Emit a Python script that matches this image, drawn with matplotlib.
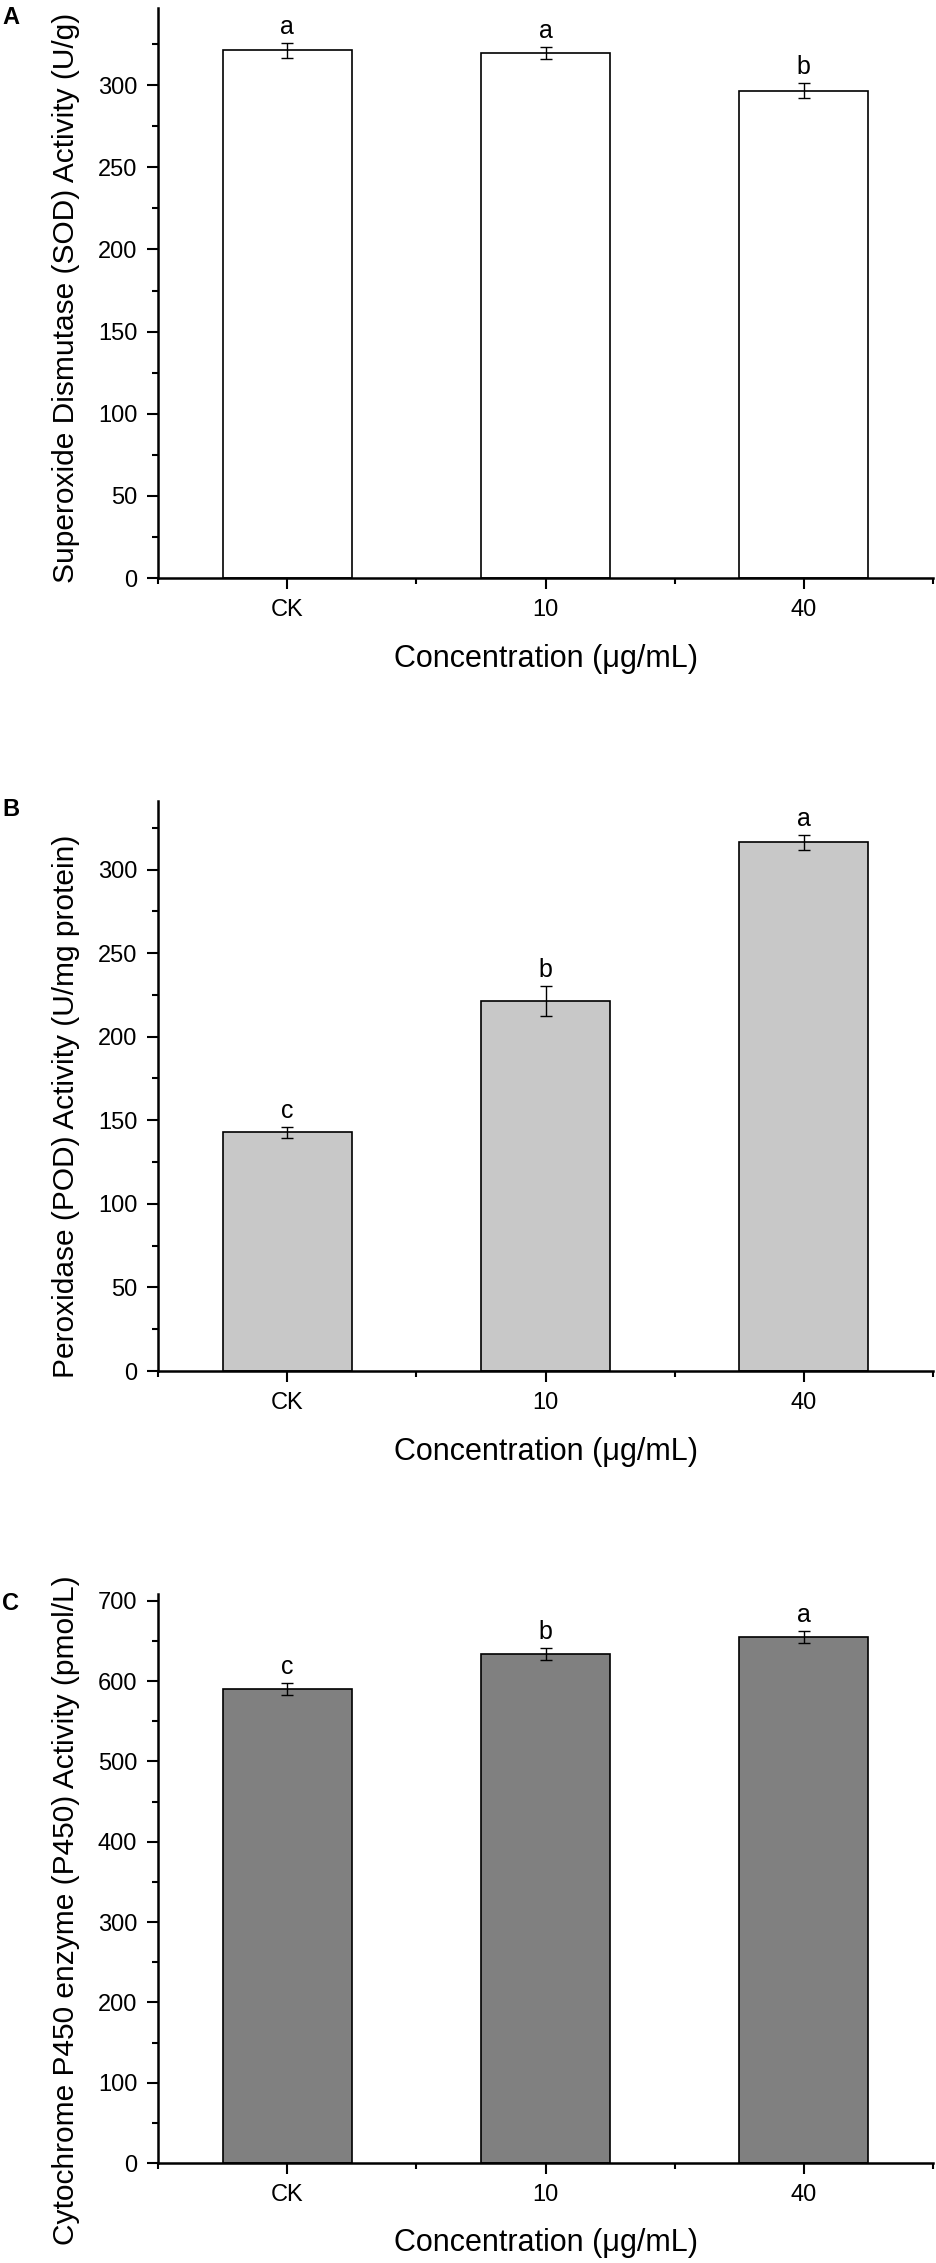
import matplotlib
matplotlib.use("Agg")
import matplotlib.pyplot as plt
from matplotlib.ticker import MultipleLocator, FixedLocator

plt.rcParams['font.family'] = ['Liberation Sans', 'DejaVu Sans']

groups = ['CK', '10', '40']

sod_mean = [321.2, 319.6, 296.6]
sod_err = [4.5, 3.4, 4.5]
sod_letters = ['a', 'a', 'b']

pod_mean = [142.7, 221.3, 316.2]
pod_err = [3.4, 9.2, 4.6]
pod_letters = ['c', 'b', 'a']

p450_mean = [590.4, 634.0, 655.2]
p450_err = [7.3, 7.3, 7.3]
p450_letters = ['c', 'b', 'a']

W, H = 936, 2263
fig = plt.figure(figsize=(W / 100, H / 100), dpi=100)

# (panel letter, means, errors, letters, ylabel, fill, ymax, major, minor, top px, bottom px, ylabel y frac)
panels = [
    ('A', sod_mean, sod_err, sod_letters, 'Superoxide Dismutase (SOD) Activity (U/g)',
     'white', 347, 50, 25, 8, 578, 0.491),
    ('B', pod_mean, pod_err, pod_letters, 'Peroxidase (POD) Activity (U/mg protein)',
     '#c8c8c8', 341, 50, 25, 801, 1371, 0.465),
    ('C', p450_mean, p450_err, p450_letters, 'Cytochrome P450 enzyme (P450) Activity (pmol/L)',
     '#808080', 708.5, 100, 50, 1594, 2163, 0.445),
]

left_px, right_px = 158, 933
x = [1, 2, 3]

for tag, mean, err, lett, ylab, fill, ymax, maj, mnr, top, bot, ly in panels:
    ax = fig.add_axes([left_px / W, 1 - bot / H, (right_px - left_px) / W, (bot - top) / H])
    ax.bar(x, mean, width=0.5, color=fill, edgecolor='black', linewidth=1.2, zorder=2)
    ax.errorbar(x, mean, yerr=err, fmt='none', ecolor='black', elinewidth=1,
                capsize=4.3, capthick=1, zorder=3)
    for xi, m, e, t in zip(x, mean, err, lett):
        ax.annotate(t, (xi, m + e), xytext=(0, 6.5), textcoords='offset points',
                    ha='center', va='baseline', fontsize=18)

    ax.set_xlim(0.5, 3.5)
    ax.set_ylim(0, ymax)
    ax.set_xticks(x)
    ax.set_xticklabels(groups)
    ax.xaxis.set_minor_locator(FixedLocator([0.5, 1.5, 2.5, 3.5]))
    ax.yaxis.set_major_locator(MultipleLocator(maj))
    ax.yaxis.set_minor_locator(MultipleLocator(mnr))

    for s in ['top', 'right']:
        ax.spines[s].set_visible(False)
    for s in ['left', 'bottom']:
        ax.spines[s].set_linewidth(1.8)

    ax.tick_params(which='major', direction='out', length=8, width=1.5, labelsize=17, pad=7)
    ax.tick_params(which='minor', direction='out', length=4.5, width=1.5)

    ax.set_ylabel(ylab, fontsize=21.5, va='center', ha='center')
    ax.yaxis.set_label_coords(-0.119, ly)
    ax.set_xlabel('Concentration (μg/mL)', fontsize=22, va='top')
    ax.xaxis.set_label_coords(0.5, -0.115)

    fig.text(2 / W, 1 - (top + 9) / H, tag, fontsize=17, fontweight='bold',
             ha='left', va='center')

fig.savefig('out.png', dpi=100)
